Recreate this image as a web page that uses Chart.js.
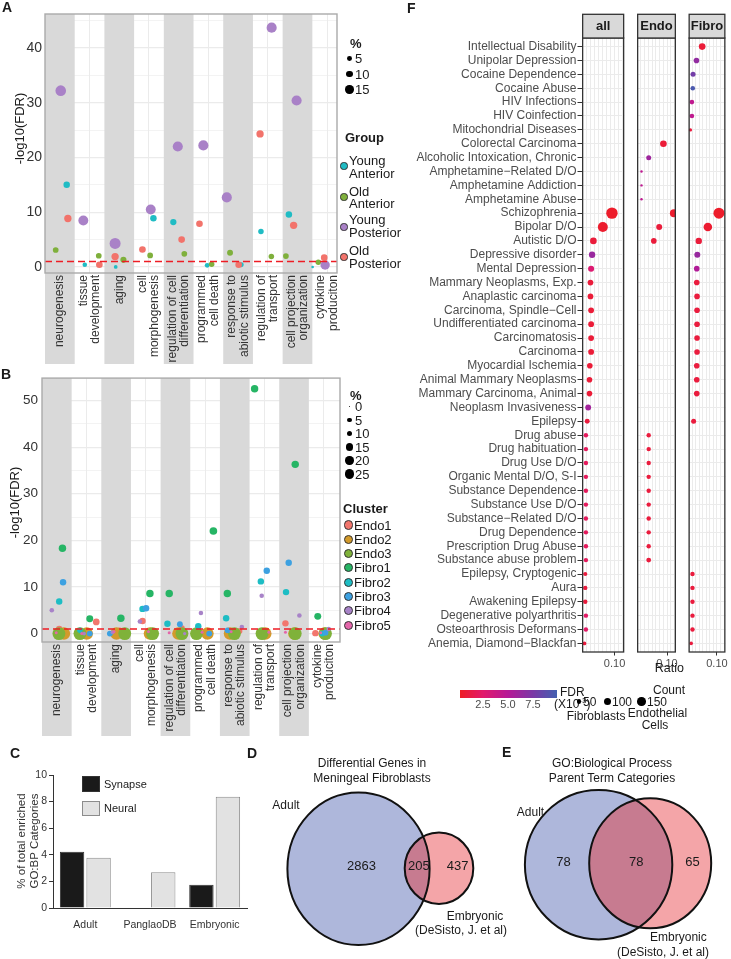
<!DOCTYPE html>
<html>
<head>
<meta charset="utf-8">
<title>Meningeal fibroblast enrichment</title>
<script src="https://cdn.jsdelivr.net/npm/chart.js@4.4.1/dist/chart.umd.min.js"></script>
<style>
  body { margin: 0; background: #fff; }
  #fig { position: relative; width: 731px; height: 959px; overflow: hidden; font-family: "Liberation Sans", Arial, sans-serif; color: #1a1a1a; }
  #fig canvas { position: absolute; }
  .t { position: absolute; white-space: nowrap; }
  .t sup { font-size: 8px; line-height: 0; }
  .dot { position: absolute; border-radius: 50%; box-sizing: border-box; }
  .box { position: absolute; box-sizing: border-box; }
</style>
</head>
<body>
<div id="fig">
  <canvas id="chartA" width="380" height="368" style="left:0;top:0"></canvas>
  <canvas id="chartB" width="380" height="376" style="left:0;top:366px"></canvas>
  <canvas id="chartC" width="250" height="214" style="left:0;top:745px"></canvas>
  <canvas id="chartVenn" width="481" height="219" style="left:250px;top:740px"></canvas>
  <canvas id="chartF1" width="250" height="680" style="left:380px;top:0"></canvas>
  <canvas id="chartF2" width="47" height="680" style="left:633px;top:0"></canvas>
  <canvas id="chartF3" width="48" height="680" style="left:683px;top:0"></canvas>
</div>
<script>
// ---- data ----
// GO:BP parent terms (panels A and B), wrapped the way they are printed
const goTermLines = [['neurogenesis'], ['tissue', 'development'], ['aging'], ['cell', 'morphogenesis'],
  ['regulation of cell', 'differentiation'], ['programmed', 'cell death'], ['response to', 'abiotic stimulus'],
  ['regulation of', 'transport'], ['cell projection', 'organization'], ['cytokine', 'produciton']];
const fdrCutoff = 1;
const yTicksA = [0, 10, 20, 30, 40];
const yTicksB = [0, 10, 20, 30, 40, 50];

// panel A: -log10(FDR), % of genes and horizontal jitter per term
const youngAnteriorLogFdr = [15.0, 0.4, 0, 8.9, 8.2, 0.3, 0.4, 6.5, 9.6, 0];
const youngAnteriorPct = [9, 4.5, 3, 9, 8.5, 5, 5, 6.5, 9, 1.5];
const youngAnteriorJitter = [0.23, -0.16, -0.12, 0.15, -0.18, -0.04, 0.11, -0.23, -0.29, -0.49];
const oldAnteriorLogFdr = [3.1, 2.05, 1.3, 2.1, 2.4, 0.5, 2.6, 1.9, 2.0, 0.85];
const oldAnteriorPct = [7, 7, 8, 7, 7, 6.5, 7.5, 6.5, 7, 6.5];
const oldAnteriorJitter = [-0.14, 0.31, 0.14, 0.04, 0.19, 0.11, -0.27, 0.12, -0.39, -0.30];
const youngPosteriorLogFdr = [32.2, 8.5, 4.3, 10.5, 22.0, 22.2, 12.7, 43.7, 30.4, 0.36];
const youngPosteriorPct = [24, 21, 26, 21, 22, 22, 22, 22, 22, 19];
const youngPosteriorJitter = [0.03, -0.21, -0.14, 0.06, -0.03, -0.17, -0.38, 0.13, -0.03, -0.07];
const oldPosteriorLogFdr = [8.85, 0.4, 1.9, 3.2, 5.0, 7.9, 0.4, 24.3, 7.6, 1.7];
const oldPosteriorPct = [11.5, 9.5, 11.5, 9.5, 9.5, 9.5, 9.5, 11.5, 11.5, 9.5];
const oldPosteriorJitter = [0.27, 0.33, -0.14, -0.22, 0.10, -0.30, 0.02, -0.26, -0.13, -0.10];
const pctLegendA = [5, 10, 15];

// panel B: one row per cluster
const endo1LogFdr = [1.0, 2.5, 0.7, 2.7, 1.2, null, 0.55, null, 2.2, 0.1];
const endo1Pct = [12, 13, 10, 12, 9, 7, 10, 7, 12, 12];
const endo1Jitter = [0.08, 0.33, 0.12, -0.11, 0.22, 0.1, 0.16, 0.05, -0.29, -0.28];
const endo2LogFdr = [0, 0, 0, 0, 0, 0, 0, 0, 0, 0];
const endo2Pct = [45, 45, 45, 45, 45, 45, 45, 45, 45, 45];
const endo2Jitter = [0.24, 0.01, 0.01, 0.14, 0.1, 0.08, -0.16, 0.03, 0.01, 0.03];
const endo3LogFdr = [0, 0, 0, 0, 0, 0, 0, 0, 0, 0];
const endo3Pct = [48, 48, 48, 48, 48, 48, 48, 48, 48, 48];
const endo3Jitter = [0.07, -0.22, 0.29, 0.23, 0.22, -0.29, -0.01, -0.08, 0.04, 0.06];
const fibro1LogFdr = [18.3, 3.2, 3.3, 8.6, 8.6, 22.0, 8.6, 52.5, 36.3, 3.7];
const fibro1Pct = [16, 14, 16, 16, 16, 17, 16, 16, 16, 14];
const fibro1Jitter = [0.19, 0.11, 0.16, 0.14, -0.21, 0.28, -0.25, -0.33, 0.04, -0.2];
const fibro2LogFdr = [6.9, 0.7, null, 5.3, 2.1, 1.6, 3.3, 11.2, 8.9, 0];
const fibro2Pct = [12, 9, 9, 12, 12, 12, 12, 12, 12, 10];
const fibro2Jitter = [0.08, -0.22, -0.2, -0.11, -0.27, -0.23, -0.29, -0.12, -0.27, -0.05];
const fibro3LogFdr = [11.0, 0, 0, 5.45, 2.0, 0, 0.7, 13.5, 15.2, 0.2];
const fibro3Pct = [12, 10, 10, 12, 10, 10, 10, 12, 12, 10];
const fibro3Jitter = [0.21, 0.11, -0.21, 0.01, 0.15, 0.14, -0.24, 0.08, -0.18, 0.06];
const fibro4LogFdr = [5.0, 0, 0.3, 2.6, 0, 4.4, 1.4, 8.1, 3.9, 1.0];
const fibro4Pct = [6, 4, 4.5, 6, 3, 6, 6, 6, 6, 6];
const fibro4Jitter = [-0.17, -0.08, -0.12, -0.2, 0.31, -0.14, 0.24, -0.09, 0.18, 0.17];
const fibro5LogFdr = [0.2, 0, 0.4, 0.4, 0.2, 0.3, 0.4, 0.3, 0.3, 0.2];
const fibro5Pct = [2.6, 2.6, 2.6, 2.6, 2.6, 2.6, 2.6, 2.6, 2.6, 2.6];
const fibro5Jitter = [-0.02, -0.16, -0.07, 0.09, -0.21, -0.1, -0.12, 0.15, -0.29, -0.1];
const pctLegendB = [0, 5, 10, 15, 20, 25];

// panel C
const sources = ['Adult', 'PanglaoDB', 'Embryonic'];
const synapsePct = [4.23, 0, 1.75];
const neuralPct = [3.78, 2.68, 8.37];

// panels D and E: [adult only, shared, embryonic only]
const fibroGeneCounts = [2863, 205, 437];
const goParentCounts = [78, 78, 65];

// panel F: DisGeNET terms, ratio / FDR (x10^-3) / gene count per facet
const diseases = ['Intellectual Disability', 'Unipolar Depression', 'Cocaine Dependence', 'Cocaine Abuse',
  'HIV Infections', 'HIV Coinfection', 'Mitochondrial Diseases', 'Colorectal Carcinoma',
  'Alcoholic Intoxication, Chronic', 'Amphetamine−Related D/O', 'Amphetamine Addiction', 'Amphetamine Abuse',
  'Schizophrenia', 'Bipolar D/O', 'Autistic D/O', 'Depressive disorder', 'Mental Depression',
  'Mammary Neoplasms, Exp.', 'Anaplastic carcinoma', 'Carcinoma, Spindle−Cell', 'Undifferentiated carcinoma',
  'Carcinomatosis', 'Carcinoma', 'Myocardial Ischemia', 'Animal Mammary Neoplasms', 'Mammary Carcinoma, Animal',
  'Neoplasm Invasiveness', 'Epilepsy', 'Drug abuse', 'Drug habituation', 'Drug Use D/O', 'Organic Mental D/O, S-I',
  'Substance Dependence', 'Substance Use D/O', 'Substance−Related D/O', 'Drug Dependence',
  'Prescription Drug Abuse', 'Substance abuse problem', 'Epilepsy, Cryptogenic', 'Aura', 'Awakening Epilepsy',
  'Degenerative polyarthritis', 'Osteoarthrosis Deformans', 'Anemia, Diamond−Blackfan'];
const allRatio = [null, null, null, null, null, null, null, null, null, null, null, null,
  0.092, 0.064, 0.035, 0.031, 0.028, 0.026, 0.026, 0.028, 0.028, 0.028, 0.028, 0.024, 0.023, 0.023, 0.019, 0.016,
  0.012, 0.012, 0.012, 0.012, 0.012, 0.012, 0.012, 0.012, 0.012, 0.012,
  0.010, 0.010, 0.010, 0.012, 0.012, 0.0075];
const allFdr = [null, null, null, null, null, null, null, null, null, null, null, null,
  0.4, 0.5, 0.9, 6.2, 2.8, 0.9, 0.8, 0.8, 0.8, 0.8, 0.8, 0.8, 0.8, 0.8, 5.8, 1.0,
  2.0, 2.0, 2.0, 2.0, 2.0, 2.0, 2.0, 2.0, 2.0, 2.0,
  1.0, 1.0, 1.0, 2.3, 2.3, 1.0];
const allCount = [null, null, null, null, null, null, null, null, null, null, null, null,
  265, 205, 90, 82, 75, 66, 66, 68, 68, 68, 68, 64, 64, 64, 70, 50,
  40, 40, 40, 40, 40, 40, 40, 40, 40, 40,
  36, 40, 40, 40, 40, 30];
const endoRatio = [null, null, null, null, null, null, null,
  0.088, 0.039, 0.015, 0.015, 0.015, 0.123, 0.074, 0.056,
  null, null, null, null, null, null, null, null, null, null, null, null, null,
  0.039, 0.039, 0.039, 0.039, 0.039, 0.039, 0.039, 0.039, 0.039, 0.039,
  null, null, null, null, null, null];
const endoFdr = [null, null, null, null, null, null, null,
  0.8, 6.0, 4.6, 4.6, 4.6, 0.5, 0.9, 0.9,
  null, null, null, null, null, null, null, null, null, null, null, null, null,
  1.0, 1.0, 1.0, 1.0, 1.0, 1.0, 1.0, 1.0, 1.0, 1.0,
  null, null, null, null, null, null];
const endoCount = [null, null, null, null, null, null, null,
  90, 51, 12, 12, 12, 130, 73, 64,
  null, null, null, null, null, null, null, null, null, null, null, null, null,
  40, 40, 40, 40, 40, 40, 40, 40, 40, 48,
  null, null, null, null, null, null];
const fibroRatio = [0.048, 0.028, 0.016, 0.015, 0.012, 0.012, 0.0067,
  null, null, null, null, null,
  0.107, 0.068, 0.036, 0.031, 0.029, 0.029, 0.030, 0.030, 0.030, 0.030, 0.030, 0.029, 0.029, 0.029,
  null, 0.018,
  null, null, null, null, null, null, null, null, null, null,
  0.014, 0.014, 0.014, 0.014, 0.014, 0.0094];
const fibroFdr = [0.8, 6.5, 7.8, 9.5, 4.5, 4.5, 1.0,
  null, null, null, null, null,
  0.4, 0.6, 0.9, 6.3, 5.2, 1.0, 1.0, 1.0, 1.0, 1.0, 1.0, 1.0, 1.0, 1.0,
  null, 1.0,
  null, null, null, null, null, null, null, null, null, null,
  1.0, 1.0, 1.0, 1.0, 1.0, 1.0];
const fibroCount = [90, 64, 51, 43, 43, 43, 24,
  null, null, null, null, null,
  247, 151, 84, 73, 64, 64, 64, 64, 64, 64, 64, 64, 64, 64,
  null, 51,
  null, null, null, null, null, null, null, null, null, null,
  40, 40, 40, 40, 40, 26];
const ratioTicks = [0.10];
const fdrLegendTicks = [2.5, 5.0, 7.5];
const countLegend = [50, 100, 150];

// ---- styling helpers ----
const FONT = '"Liberation Sans", Arial, sans-serif';
Chart.defaults.font.family = FONT;
Chart.defaults.color = '#333';
const fig = document.getElementById('fig');

const pctRadiusA = p => 1.08 * Math.sqrt(p);
const pctRadiusB = p => Math.max(0.8, 0.93 * Math.sqrt(p));
const countRadius = n => 0.35 * Math.sqrt(n);

const fdrStops = [[0.2, [238, 29, 37]], [2.5, [226, 26, 108]], [5, [182, 25, 150]], [7.5, [122, 56, 166]], [9.9, [66, 96, 176]]];
function fdrColor(v) {
  if (v <= fdrStops[0][0]) return `rgb(${fdrStops[0][1]})`;
  for (let i = 1; i < fdrStops.length; i++) {
    const [v1, c1] = fdrStops[i];
    if (v <= v1) {
      const [v0, c0] = fdrStops[i - 1];
      const t = (v - v0) / (v1 - v0);
      return `rgb(${c0.map((c, k) => Math.round(c + (c1[k] - c) * t)).join(',')})`;
    }
  }
  return `rgb(${fdrStops[fdrStops.length - 1][1]})`;
}

function addText(s, x, y, o = {}) {
  const d = document.createElement('div');
  d.className = 't';
  if (o.html) d.innerHTML = s; else d.textContent = s;
  const size = o.size || 13;
  d.style.font = (o.bold ? 'bold ' : '') + size + 'px ' + FONT;
  d.style.lineHeight = size + 'px';
  d.style.left = x + 'px';
  d.style.top = (y - size / 2) + 'px';
  d.style.color = o.color || '#1a1a1a';
  if (o.align === 'center') d.style.transform = 'translateX(-50%)';
  if (o.align === 'right') d.style.transform = 'translateX(-100%)';
  fig.appendChild(d);
  return d;
}
function addDot(x, y, r, fill, stroke) {
  const d = document.createElement('div');
  d.className = 'dot';
  d.style.left = (x - r) + 'px';
  d.style.top = (y - r) + 'px';
  d.style.width = d.style.height = (2 * r) + 'px';
  d.style.background = fill;
  if (stroke) d.style.border = '1px solid ' + stroke;
  fig.appendChild(d);
}
function addBox(x, y, w, h, fill, stroke) {
  const d = document.createElement('div');
  d.className = 'box';
  Object.assign(d.style, { left: x + 'px', top: y + 'px', width: w + 'px', height: h + 'px', background: fill, border: '1px solid ' + stroke });
  fig.appendChild(d);
}

// ---- panels A and B ----
const goPanelPlugin = {
  id: 'goPanel',
  beforeDatasetsDraw(chart, args, o) {
    const { ctx, chartArea: a, scales: { x } } = chart;
    ctx.save();
    ctx.fillStyle = '#D9D9D9';
    goTermLines.forEach((_, i) => {
      if (i % 2) return;
      const l = Math.max(x.getPixelForValue(i + 0.5), a.left);
      const r = Math.min(x.getPixelForValue(i + 1.5), a.right);
      ctx.fillRect(l, a.top, r - l, o.bandBottom - a.top);
    });
    ctx.restore();
  },
  afterDatasetsDraw(chart, args, o) {
    const { ctx, chartArea: a, scales: { x, y } } = chart;
    ctx.save();
    const cy = y.getPixelForValue(fdrCutoff);
    ctx.strokeStyle = '#EE1C24';
    ctx.lineWidth = 1.4;
    ctx.setLineDash([7, 4]);
    ctx.beginPath(); ctx.moveTo(a.left, cy); ctx.lineTo(a.right, cy); ctx.stroke();
    ctx.setLineDash([]);
    ctx.strokeStyle = '#AAAAAA';
    ctx.lineWidth = 1.4;
    ctx.strokeRect(a.left, a.top, a.right - a.left, a.bottom - a.top);

    ctx.fillStyle = '#333';
    ctx.font = '12px ' + FONT;
    ctx.textAlign = 'right';
    ctx.textBaseline = 'middle';
    goTermLines.forEach((lines, i) => {
      const px = x.getPixelForValue(i + 1);
      lines.forEach((s, j) => {
        ctx.save();
        ctx.translate(px + (j - (lines.length - 1) / 2) * 12.4, a.bottom + 2);
        ctx.rotate(-Math.PI / 2);
        ctx.fillText(s, 0, 0);
        ctx.restore();
      });
    });

    ctx.fillStyle = '#1a1a1a';
    ctx.font = '13px ' + FONT;
    ctx.textAlign = 'center';
    ctx.translate(o.titleX, o.titleY);
    ctx.rotate(-Math.PI / 2);
    ctx.fillText('-log10(FDR)', 0, 0);
    ctx.restore();
  }
};

function buildGoPanel(id, cfg) {
  return new Chart(document.getElementById(id), {
    type: 'bubble',
    data: {
      datasets: cfg.series.map((s, i) => ({
        label: s.name,
        data: s.values.map((v, k) => v === null ? null : { x: k + 1 + s.jitter[k], y: v, r: cfg.radius(s.pct[k]) }).filter(p => p),
        backgroundColor: s.color,
        borderWidth: 0,
        order: cfg.series.length - i
      }))
    },
    options: {
      responsive: false,
      animation: false,
      events: [],
      layout: { padding: cfg.padding },
      plugins: { legend: { display: false }, tooltip: { enabled: false }, goPanel: cfg.deco },
      scales: {
        x: {
          type: 'linear', min: 0.5, max: cfg.xMax,
          afterBuildTicks: s => { s.ticks = goTermLines.map((_, i) => ({ value: i + 1 })); },
          ticks: { display: false },
          grid: { color: '#EBEBEB', drawTicks: false },
          border: { display: false },
          afterFit: s => { s.height = cfg.xHeight; }
        },
        y: {
          type: 'linear', min: cfg.yMin, max: cfg.yMax,
          afterBuildTicks: s => {
            s.ticks = cfg.yTicks.flatMap(v => [{ value: v }, { value: v + 5 }]).filter(t => t.value < cfg.yMax);
          },
          ticks: {
            autoSkip: false, color: '#333', font: { size: cfg.tickSize }, padding: cfg.tickPad,
            callback: v => cfg.yTicks.includes(v) ? v : ''
          },
          grid: {
            color: '#EBEBEB', drawTicks: false,
            lineWidth: c => (c.tick && cfg.yTicks.includes(c.tick.value)) ? 1.2 : 0.6
          },
          border: { display: false },
          afterFit: s => { s.width = cfg.yWidth; }
        }
      }
    },
    plugins: [goPanelPlugin]
  });
}

const groupColors = ['#20BCC4', '#7FB03C', '#A981C7', '#F2736B'];
const groupSeries = [
  { name: 'Young Anterior', values: youngAnteriorLogFdr, pct: youngAnteriorPct, jitter: youngAnteriorJitter },
  { name: 'Old Anterior', values: oldAnteriorLogFdr, pct: oldAnteriorPct, jitter: oldAnteriorJitter },
  { name: 'Young Posterior', values: youngPosteriorLogFdr, pct: youngPosteriorPct, jitter: youngPosteriorJitter },
  { name: 'Old Posterior', values: oldPosteriorLogFdr, pct: oldPosteriorPct, jitter: oldPosteriorJitter }
].map((s, i) => ({ ...s, color: groupColors[i] }));

buildGoPanel('chartA', {
  series: groupSeries, radius: pctRadiusA,
  padding: { top: 14, right: 43, left: 0, bottom: 0 },
  xMax: 10.33, xHeight: 95, yMin: -1.1, yMax: 46.2, yTicks: yTicksA, yWidth: 45, tickSize: 14, tickPad: 3,
  deco: { bandBottom: 364, titleX: 20.7, titleY: 128.5 }
});

const clusterColors = ['#F2766D', '#D39A2B', '#7FB23A', '#26B565', '#1DBDC4', '#3DA1E1', '#A883C8', '#E466AA'];
const clusterSeries = [
  { name: 'Endo1', values: endo1LogFdr, pct: endo1Pct, jitter: endo1Jitter },
  { name: 'Endo2', values: endo2LogFdr, pct: endo2Pct, jitter: endo2Jitter },
  { name: 'Endo3', values: endo3LogFdr, pct: endo3Pct, jitter: endo3Jitter },
  { name: 'Fibro1', values: fibro1LogFdr, pct: fibro1Pct, jitter: fibro1Jitter },
  { name: 'Fibro2', values: fibro2LogFdr, pct: fibro2Pct, jitter: fibro2Jitter },
  { name: 'Fibro3', values: fibro3LogFdr, pct: fibro3Pct, jitter: fibro3Jitter },
  { name: 'Fibro4', values: fibro4LogFdr, pct: fibro4Pct, jitter: fibro4Jitter },
  { name: 'Fibro5', values: fibro5LogFdr, pct: fibro5Pct, jitter: fibro5Jitter }
].map((s, i) => ({ ...s, color: clusterColors[i] }));

buildGoPanel('chartB', {
  series: clusterSeries, radius: pctRadiusB,
  padding: { top: 10, right: 40, left: 0, bottom: 0 },
  xMax: 10.55, xHeight: 100, yMin: -1.8, yMax: 54.8, yTicks: yTicksB, yWidth: 42, tickSize: 13.5, tickPad: 4,
  deco: { bandBottom: 370, titleX: 15, titleY: 136.5 }
});

// legends A and B
addText('%', 350, 43, { bold: true });
[58.5, 74, 89.5].forEach((y, i) => {
  addDot(349.5, y, pctRadiusA(pctLegendA[i]), '#000');
  addText(String(pctLegendA[i]), 355, y);
});
addText('Group', 345, 137, { bold: true });
[[166, 160, 173], [197, 191, 203.5], [227, 219.5, 232.5], [257, 250, 263.5]].forEach(([cy, y1, y2], i) => {
  addDot(344, cy, 3.6, groupColors[i], '#333');
  const [w1, w2] = groupSeries[i].name.split(' ');
  addText(w1, 349, y1);
  addText(w2, 349, y2);
});

addText('%', 350, 395, { bold: true });
[406.7, 420, 433.5, 447, 460.5, 474].forEach((y, i) => {
  addDot(349.5, y, pctRadiusB(pctLegendB[i]), '#000');
  addText(String(pctLegendB[i]), 355, y);
});
addText('Cluster', 343, 508, { bold: true });
clusterSeries.forEach((s, i) => {
  const y = 525 + i * 14.3;
  addDot(348.3, y, 4.6, s.color, '#333');
  addText(s.name, 354, y);
});

// ---- panel C ----
new Chart(document.getElementById('chartC'), {
  type: 'bar',
  data: {
    labels: sources,
    datasets: [
      { label: 'Synapse', data: synapsePct, backgroundColor: '#1A1A1A', borderColor: '#333', borderWidth: c => c.raw ? 1 : 0 },
      { label: 'Neural', data: neuralPct, backgroundColor: '#E2E2E2', borderColor: '#8C8C8C', borderWidth: 1 }
    ]
  },
  options: {
    responsive: false,
    animation: false,
    events: [],
    layout: { padding: { top: 30, right: 3, left: 0, bottom: 0 } },
    datasets: { bar: { categoryPercentage: 0.82, barPercentage: 0.92 } },
    plugins: { legend: { display: false }, tooltip: { enabled: false } },
    scales: {
      x: {
        grid: { display: false },
        border: { color: '#333', width: 1 },
        ticks: { font: { size: 10.5 }, color: '#333', padding: 3 },
        afterFit: s => { s.height = 51; }
      },
      y: {
        min: 0, max: 10,
        ticks: { stepSize: 2, font: { size: 10.5 }, color: '#333', padding: 2 },
        grid: { drawOnChartArea: false, tickLength: 4, tickColor: '#333' },
        border: { color: '#333', width: 1 },
        afterFit: s => { s.width = 53; }
      }
    }
  }
});
addBox(82, 776, 18, 16, '#1A1A1A', '#333');
addBox(82, 800.5, 18, 15.5, '#E2E2E2', '#8C8C8C');
addText('Synapse', 104, 784, { size: 11 });
addText('Neural', 104, 808.5, { size: 11 });
const cTitle = addText('% of total enriched<br>GO:BP Categories', 27, 841, { html: true, size: 11.5, color: '#333' });
cTitle.style.lineHeight = '12.5px';
cTitle.style.textAlign = 'center';
cTitle.style.top = '841px';
cTitle.style.transform = 'translate(-50%, -50%) rotate(-90deg)';

// ---- panels D and E (Venn) ----
const vennColors = { adult: '#AEB7DB', embryonic: '#F4A5A8', both: '#C77B90' };
const vennPanels = [
  { counts: fibroGeneCounts, adult: [358.5, 868.8, 71.1, 76.2], emb: [439, 868.3, 34.3, 35.7], labelX: [361.5, 418.8, 457.7], labelY: 866 },
  { counts: goParentCounts, adult: [598.6, 864.7, 73.7, 74.7], emb: [650.2, 863.3, 61, 65], labelX: [563.4, 636.2, 692.5], labelY: 862 }
];
const vennPlugin = {
  id: 'venn',
  afterDraw(chart) {
    const { ctx, scales: { x, y } } = chart;
    const ell = e => {
      ctx.beginPath();
      ctx.ellipse(x.getPixelForValue(e[0]), y.getPixelForValue(e[1]), e[2], e[3], 0, 0, Math.PI * 2);
    };
    vennPanels.forEach(p => {
      ctx.save();
      ctx.fillStyle = vennColors.adult; ell(p.adult); ctx.fill();
      ctx.fillStyle = vennColors.embryonic; ell(p.emb); ctx.fill();
      ctx.save(); ell(p.adult); ctx.clip();
      ctx.fillStyle = vennColors.both; ell(p.emb); ctx.fill();
      ctx.restore();
      ctx.strokeStyle = '#111'; ctx.lineWidth = 2;
      ell(p.adult); ctx.stroke();
      ell(p.emb); ctx.stroke();
      ctx.fillStyle = '#1a1a1a';
      ctx.font = '13px ' + FONT;
      ctx.textAlign = 'center';
      ctx.textBaseline = 'middle';
      p.counts.forEach((n, i) => ctx.fillText(String(n), x.getPixelForValue(p.labelX[i]), y.getPixelForValue(p.labelY)));
      ctx.restore();
    });
  }
};
new Chart(document.getElementById('chartVenn'), {
  type: 'scatter',
  data: { datasets: [] },
  options: {
    responsive: false, animation: false, events: [],
    plugins: { legend: { display: false }, tooltip: { enabled: false } },
    scales: {
      x: { type: 'linear', min: 250, max: 731, display: false },
      y: { type: 'linear', min: 740, max: 959, reverse: true, display: false }
    }
  },
  plugins: [vennPlugin]
});
addText('Differential Genes in', 372, 763, { size: 12, align: 'center' });
addText('Meningeal Fibroblasts', 372, 778, { size: 12, align: 'center' });
addText('Adult', 286, 805, { size: 12, align: 'center' });
addText('Embryonic', 475, 916, { size: 12, align: 'center' });
addText('(DeSisto, J. et al)', 461, 930, { size: 12, align: 'center' });
addText('GO:Biological Process', 612, 763, { size: 12, align: 'center' });
addText('Parent Term Categories', 612, 778, { size: 12, align: 'center' });
addText('Adult', 530.5, 811.7, { size: 12, align: 'center' });
addText('Embryonic', 678.4, 936.7, { size: 12, align: 'center' });
addText('(DeSisto, J. et al)', 663, 951.7, { size: 12, align: 'center' });

// ---- panel F ----
const facetFramePlugin = {
  id: 'facetFrame',
  afterDatasetsDraw(chart, args, o) {
    const { ctx, chartArea: a } = chart;
    ctx.save();
    ctx.strokeStyle = '#333';
    ctx.lineWidth = 1.3;
    ctx.strokeRect(a.left + 0.65, a.top, a.right - a.left - 1.3, a.bottom - a.top);
    ctx.fillStyle = '#D9D9D9';
    ctx.fillRect(a.left + 0.65, 14.3, a.right - a.left - 1.3, a.top - 14.3);
    ctx.strokeRect(a.left + 0.65, 14.3, a.right - a.left - 1.3, a.top - 14.3);
    ctx.fillStyle = '#1a1a1a';
    ctx.font = 'bold 13px ' + FONT;
    ctx.textAlign = 'center';
    ctx.textBaseline = 'middle';
    ctx.fillText(o.strip, (a.left + a.right) / 2, (14.3 + a.top) / 2 + 0.5);
    ctx.restore();
  }
};

function buildFacet(id, strip, ratio, fdr, count, showLabels) {
  const pts = [], cols = [];
  diseases.forEach((d, i) => {
    if (ratio[i] === null) return;
    pts.push({ x: ratio[i], y: i, r: countRadius(count[i]) });
    cols.push(fdrColor(fdr[i]));
  });
  return new Chart(document.getElementById(id), {
    type: 'bubble',
    data: { datasets: [{ label: strip, data: pts, backgroundColor: cols, borderWidth: 0 }] },
    options: {
      responsive: false,
      animation: false,
      events: [],
      layout: { padding: { top: 38, right: showLabels ? 1 : 0, left: 0, bottom: 0 } },
      plugins: { legend: { display: false }, tooltip: { enabled: false }, facetFrame: { strip } },
      scales: {
        x: {
          type: 'linear', min: 0, max: 0.13,
          afterBuildTicks: s => { s.ticks = Array.from({ length: 11 }, (_, i) => ({ value: i / 80 })); },
          ticks: {
            autoSkip: false, maxRotation: 0, font: { size: 11 }, color: '#4D4D4D', padding: 1.5,
            callback: v => ratioTicks.some(t => Math.abs(t - v) < 1e-9) ? v.toFixed(2) : ''
          },
          grid: {
            color: '#EBEBEB', tickLength: 3.5,
            tickColor: c => (c.tick && ratioTicks.some(t => Math.abs(t - c.tick.value) < 1e-9)) ? '#333' : 'rgba(0,0,0,0)'
          },
          border: { display: false },
          afterFit: s => { s.height = 28; }
        },
        y: {
          type: 'linear', reverse: true, min: -0.62, max: 43.62,
          afterBuildTicks: s => { s.ticks = diseases.map((_, i) => ({ value: i })); },
          ticks: {
            display: showLabels, autoSkip: false, font: { size: 12 }, color: '#4D4D4D', padding: 1,
            callback: v => diseases[v]
          },
          grid: { color: '#EBEBEB', drawTicks: showLabels, tickLength: 4.5, tickColor: '#333' },
          border: { display: false },
          afterFit: s => { s.width = showLabels ? 202 : 0; }
        }
      }
    },
    plugins: [facetFramePlugin]
  });
}
buildFacet('chartF1', 'all', allRatio, allFdr, allCount, true);
buildFacet('chartF2', 'Endo', endoRatio, endoFdr, endoCount, false);
buildFacet('chartF3', 'Fibro', fibroRatio, fibroFdr, fibroCount, false);
addText('Ratio', 669.3, 668.3, { size: 12.5, align: 'center' });

// F legends
const bar = document.createElement('div');
const fdrMin = fdrStops[0][0], fdrMax = fdrStops[fdrStops.length - 1][0];
Object.assign(bar.style, {
  position: 'absolute', left: '460px', top: '690px', width: '97px', height: '7.5px',
  background: 'linear-gradient(to right,' + fdrStops.map(([v, c]) => `rgb(${c}) ${((v - fdrMin) / (fdrMax - fdrMin) * 100).toFixed(1)}%`).join(',') + ')'
});
fig.appendChild(bar);
fdrLegendTicks.forEach(v => addText(v.toFixed(1), 460 + (v - fdrMin) / (fdrMax - fdrMin) * 97, 704, { size: 11, color: '#4D4D4D', align: 'center' }));
addText('FDR', 560, 692, { size: 12 });
addText('(X10<sup>-3</sup>)', 554, 704, { size: 12, html: true });
addText('Fibroblasts', 566.7, 716, { size: 12 });
addText('Count', 669, 690, { size: 12, align: 'center' });
[[579, 583], [607.7, 612], [641.7, 647]].forEach(([dx, tx], i) => {
  addDot(dx, 701.7, countRadius(countLegend[i]), '#000');
  addText(String(countLegend[i]), tx, 701.7, { size: 12 });
});
addText('Endothelial', 657.5, 713.3, { size: 12, align: 'center' });
addText('Cells', 655, 725, { size: 12, align: 'center' });

// panel letters
addText('A', 2, 7, { bold: true, size: 14 });
addText('B', 1, 373.5, { bold: true, size: 14 });
addText('C', 10, 752.7, { bold: true, size: 14 });
addText('D', 247, 752.7, { bold: true, size: 14 });
addText('E', 502, 751.7, { bold: true, size: 14 });
addText('F', 407, 8.3, { bold: true, size: 14 });
</script>
</body>
</html>
